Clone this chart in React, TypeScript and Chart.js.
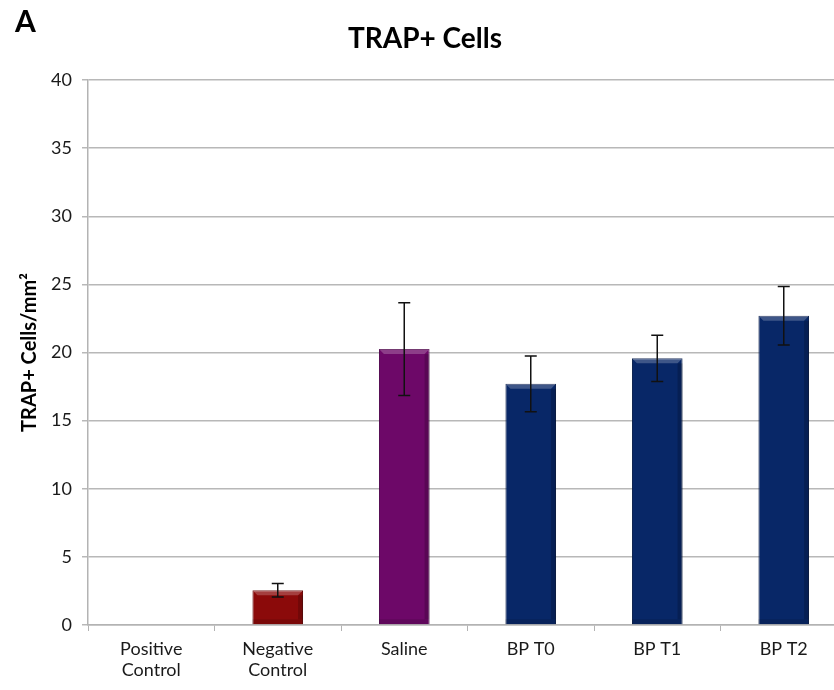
import React, { useEffect, useRef } from "react";
import { Chart, registerables } from "chart.js";

Chart.register(...registerables);

const categories: (string | string[])[] = [
  ["Positive", "Control"],
  ["Negative", "Control"],
  "Saline",
  "BP T0",
  "BP T1",
  "BP T2",
];
const means = [0, 2.55, 20.25, 17.7, 19.57, 22.7];
const errors = [0, 0.5, 3.4, 2.05, 1.7, 2.15];
const barColors = ["#7a0000", "#8b0a0a", "#6d0868", "#082767", "#082767", "#082767"];
const barBorders = ["#5a0000", "#600000", "#4d034a", "#041a48", "#041a48", "#041a48"];
const yMin = 0;
const yMax = 40;
const yStep = 5;
const chartTitle = "TRAP+ Cells";
const yTitle = "TRAP+ Cells/mm²";
const panelLabel = "A";

const FONT = "Lato, 'Open Sans', sans-serif";

const decorPlugin = {
  id: "decor",
  afterDatasetsDraw(chart: any) {
    const ctx = chart.ctx;
    const meta = chart.getDatasetMeta(0);
    const y = chart.scales.y;
    ctx.save();
    meta.data.forEach((bar: any, i: number) => {
      if (means[i] <= 0) return;
      const w = bar.width;
      const left = bar.x - w / 2;
      const top = bar.y;
      const bottom = bar.base;
      const h = bottom - top;
      const b = Math.min(5, h / 3);
      ctx.fillStyle = "rgba(255,255,255,0.22)";
      ctx.beginPath();
      ctx.moveTo(left, top);
      ctx.lineTo(left + w, top);
      ctx.lineTo(left + w - b, top + b);
      ctx.lineTo(left + b, top + b);
      ctx.closePath();
      ctx.fill();
      ctx.fillStyle = "rgba(0,0,0,0.18)";
      ctx.fillRect(left + w - b, top + b, b, h - 2 * b);
      ctx.fillStyle = "rgba(0,0,0,0.12)";
      ctx.fillRect(left, bottom - b, w, b);
    });
    ctx.strokeStyle = "#111";
    ctx.lineWidth = 1.5;
    meta.data.forEach((bar: any, i: number) => {
      const e = errors[i];
      if (!e) return;
      const x = bar.x;
      const yt = y.getPixelForValue(means[i] + e);
      const yb = y.getPixelForValue(means[i] - e);
      ctx.beginPath();
      ctx.moveTo(x, yt);
      ctx.lineTo(x, yb);
      ctx.moveTo(x - 6, yt);
      ctx.lineTo(x + 6, yt);
      ctx.moveTo(x - 6, yb);
      ctx.lineTo(x + 6, yb);
      ctx.stroke();
    });
    ctx.restore();
  },
  afterDraw(chart: any) {
    const ctx = chart.ctx;
    const area = chart.chartArea;
    ctx.save();
    ctx.fillStyle = "#000";
    ctx.textBaseline = "middle";
    ctx.textAlign = "left";
    ctx.font = `bold 30px ${FONT}`;
    ctx.fillText(panelLabel, 15, 22);
    ctx.textAlign = "center";
    ctx.font = `bold 28px ${FONT}`;
    ctx.fillText(chartTitle, 425, 39);
    ctx.translate(30, (area.top + area.bottom) / 2);
    ctx.rotate(-Math.PI / 2);
    ctx.font = `bold 20px ${FONT}`;
    ctx.fillText(yTitle, 0, 0);
    ctx.restore();
  },
};

export default function App() {
  const ref = useRef<HTMLCanvasElement | null>(null);
  useEffect(() => {
    if (!ref.current) return;
    const chart = new Chart(ref.current, {
      type: "bar",
      data: {
        labels: categories,
        datasets: [
          {
            data: means,
            backgroundColor: barColors,
            borderColor: barBorders,
            borderWidth: 1,
            barPercentage: 0.4,
            categoryPercentage: 1,
          },
        ],
      },
      options: {
        responsive: false,
        animation: false,
        devicePixelRatio: 1,
        layout: { padding: { left: 0, right: 23, top: 80, bottom: 0 } },
        plugins: {
          legend: { display: false },
          tooltip: { enabled: false },
          title: { display: false },
        },
        scales: {
          x: {
            grid: {
              drawOnChartArea: false,
              drawTicks: true,
              tickLength: 6,
              color: "#b3b3b3",
              offset: true,
            },
            border: { color: "#b3b3b3", width: 1.5 },
            ticks: {
              color: "#1a1a1a",
              font: { family: FONT, size: 18 },
              padding: 7,
              maxRotation: 0,
              autoSkip: false,
            },
            afterFit(scale: any) {
              scale.height = 65;
            },
          },
          y: {
            min: yMin,
            max: yMax,
            ticks: {
              stepSize: yStep,
              color: "#1a1a1a",
              font: { family: FONT, size: 18 },
              padding: 10,
            },
            grid: { color: "#b8b8b8", lineWidth: 1.5, tickLength: 6 },
            border: { color: "#b3b3b3", width: 1.5 },
            afterFit(scale: any) {
              scale.width = 88;
            },
          },
        },
      },
      plugins: [decorPlugin],
    });
    return () => chart.destroy();
  }, []);
  return (
    <div
      style={{
        position: "fixed",
        left: 0,
        top: 0,
        width: 834,
        height: 690,
        overflow: "hidden",
        background: "#fff",
      }}
    >
      <canvas ref={ref} width={870} height={690} style={{ display: "block" }} />
    </div>
  );
}
